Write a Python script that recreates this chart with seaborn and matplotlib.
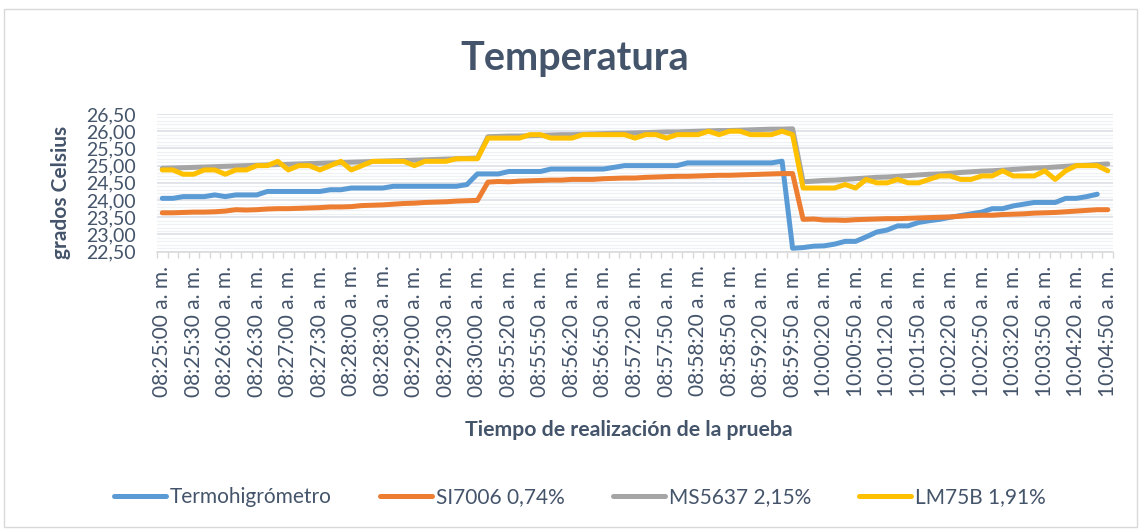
import numpy as np
import pandas as pd
import matplotlib
matplotlib.use("Agg")
import matplotlib.pyplot as plt
import seaborn as sns
from matplotlib.patches import Rectangle
from matplotlib.ticker import MultipleLocator, FuncFormatter

# Sampling sessions: start time and number of 10-second readings in each
segment_starts = ["08:25:00", "08:55:00", "10:00:00"]
segment_lengths = [31, 30, 30]

sensor_names = ["Termohigrómetro", "SI7006 0,74%", "MS5637 2,15%", "LM75B 1,91%"]
sensor_colors = ["#5B9BD5", "#ED7D31", "#A5A5A5", "#FFC000"]

# Reference thermohygrometer (one reading fewer than the sensors)
termohigrometro = [
    24.05, 24.05, 24.10, 24.10, 24.10, 24.15, 24.10, 24.15, 24.15, 24.15,
    24.25, 24.25, 24.25, 24.25, 24.25, 24.25, 24.30, 24.30, 24.35, 24.35,
    24.35, 24.35, 24.40, 24.40, 24.40, 24.40, 24.40, 24.40, 24.40, 24.45,
    24.76, 24.76, 24.76, 24.83, 24.83, 24.83, 24.83, 24.90, 24.90, 24.90,
    24.90, 24.90, 24.90, 24.95, 25.00, 25.00, 25.00, 25.00, 25.00, 25.00,
    25.08, 25.08, 25.08, 25.08, 25.08, 25.08, 25.08, 25.08, 25.08, 25.13,
    22.60, 22.62, 22.66, 22.67, 22.72, 22.80, 22.80, 22.93, 23.07, 23.13,
    23.25, 23.25, 23.35, 23.40, 23.44, 23.50, 23.55, 23.60, 23.65, 23.75,
    23.75, 23.83, 23.88, 23.93, 23.93, 23.93, 24.05, 24.05, 24.10, 24.17,
]

si7006 = [
    23.63, 23.63, 23.64, 23.65, 23.65, 23.66, 23.68, 23.72, 23.71, 23.72,
    23.74, 23.75, 23.75, 23.76, 23.77, 23.78, 23.80, 23.80, 23.81, 23.84,
    23.85, 23.86, 23.88, 23.90, 23.91, 23.93, 23.94, 23.95, 23.97, 23.98,
    23.99,
    24.52, 24.54, 24.53, 24.55, 24.56, 24.57, 24.58, 24.58, 24.60, 24.60,
    24.60, 24.62, 24.63, 24.64, 24.64, 24.66, 24.67, 24.68, 24.69, 24.69,
    24.70, 24.71, 24.72, 24.72, 24.73, 24.74, 24.75, 24.76, 24.77, 24.77,
    23.44, 23.45, 23.42, 23.42, 23.41, 23.43, 23.44, 23.45, 23.46, 23.46,
    23.47, 23.48, 23.49, 23.50, 23.51, 23.53, 23.55, 23.56, 23.56, 23.58,
    23.59, 23.60, 23.62, 23.63, 23.64, 23.66, 23.68, 23.70, 23.72, 23.72,
]

ms5637 = [
    24.92, 24.93, 24.94, 24.95, 24.96, 24.97, 24.98, 24.99, 25.00, 25.01,
    25.02, 25.03, 25.04, 25.05, 25.06, 25.07, 25.08, 25.09, 25.10, 25.11,
    25.12, 25.13, 25.14, 25.15, 25.16, 25.17, 25.18, 25.19, 25.20, 25.21,
    25.22,
    25.84, 25.85, 25.86, 25.86, 25.87, 25.88, 25.89, 25.90, 25.90, 25.91,
    25.92, 25.93, 25.94, 25.94, 25.95, 25.96, 25.97, 25.98, 25.98, 25.99,
    26.00, 26.01, 26.02, 26.02, 26.03, 26.04, 26.05, 26.06, 26.06, 26.07,
    24.53, 24.55, 24.57, 24.58, 24.60, 24.62, 24.64, 24.66, 24.67, 24.69,
    24.71, 24.73, 24.75, 24.76, 24.78, 24.80, 24.82, 24.84, 24.85, 24.87,
    24.89, 24.91, 24.93, 24.94, 24.96, 24.98, 25.00, 25.01, 25.03, 25.05,
]

lm75b = [
    24.875, 24.875, 24.75, 24.75, 24.875, 24.875, 24.75, 24.875, 24.875, 25.0,
    25.0, 25.125, 24.875, 25.0, 25.0, 24.875, 25.0, 25.125, 24.875, 25.0,
    25.125, 25.125, 25.125, 25.125, 25.0, 25.125, 25.125, 25.125, 25.2, 25.2,
    25.2,
    25.8, 25.8, 25.8, 25.8, 25.9, 25.9, 25.8, 25.8, 25.8, 25.9,
    25.9, 25.9, 25.9, 25.9, 25.8, 25.9, 25.9, 25.8, 25.9, 25.9,
    25.9, 26.0, 25.9, 26.0, 26.0, 25.9, 25.9, 25.9, 26.0, 25.9,
    24.35, 24.35, 24.35, 24.35, 24.45, 24.35, 24.6, 24.5, 24.5, 24.6,
    24.5, 24.5, 24.6, 24.7, 24.7, 24.6, 24.6, 24.7, 24.7, 24.85,
    24.7, 24.7, 24.7, 24.85, 24.6, 24.85, 25.0, 25.0, 25.0, 24.85,
]

# Time stamp of every reading, labelled every third one
times = []
for start, n in zip(segment_starts, segment_lengths):
    times += list(pd.date_range("2000-01-01 " + start, periods=n, freq="10s"))
time_labels = [t.strftime("%H:%M:%S") + " a. m." for t in times]
label_step = 3

frames = []
for name, values in zip(sensor_names, [termohigrometro, si7006, ms5637, lm75b]):
    frames.append(pd.DataFrame({"pos": np.arange(len(values)),
                                "temp": values, "sensor": name}))
df = pd.concat(frames, ignore_index=True)

sns.set_theme(style="white")
plt.rcParams["font.family"] = ["Lato", "DejaVu Sans"]

TEXT = "#44546A"
W, H = 1140, 531
fig = plt.figure(figsize=(W / 100, H / 100), dpi=100)
ax = fig.add_axes([157 / W, 1 - 251.7 / H, 956 / W, 137.7 / H])

sns.lineplot(data=df, x="pos", y="temp", hue="sensor", hue_order=sensor_names,
             palette=sensor_colors, linewidth=3.6, ax=ax,
             solid_capstyle="round", solid_joinstyle="round")

ax.set_xlim(-0.5, len(times) - 0.5)
ax.set_ylim(22.5, 26.5)

# y axis: labelled every 0.5, faint minor grid every 0.1
ax.yaxis.set_major_locator(MultipleLocator(0.5))
ax.yaxis.set_minor_locator(MultipleLocator(0.1))
ax.yaxis.set_major_formatter(FuncFormatter(lambda v, p: f"{v:.2f}".replace(".", ",")))
ax.grid(which="major", axis="y", color="#D9DEE6", linewidth=1.1)
ax.grid(which="minor", axis="y", color="#EFF1F5", linewidth=0.9)
ax.grid(which="major", axis="x", visible=False)
ax.set_axisbelow(True)
ax.tick_params(axis="y", which="both", length=0, pad=15, labelsize=14, labelcolor=TEXT)

# x axis: time labels on every third reading, tick marks between readings
positions = np.arange(len(times))
ax.set_xticks(positions[::label_step])
ax.set_xticklabels(time_labels[::label_step], rotation=90, va="top", ha="center")
ax.set_xticks(np.arange(-0.5, len(times), 1), minor=True)
ax.tick_params(axis="x", which="major", length=0, pad=10, labelsize=15, labelcolor=TEXT)
ax.tick_params(axis="x", which="minor", length=4.3, width=1, color="#D9D9D9", bottom=True)

for side in ["top", "right", "left"]:
    ax.spines[side].set_visible(False)
ax.spines["bottom"].set_color("#D9D9D9")
ax.spines["bottom"].set_linewidth(1.1)

ax.set_xlabel("Tiempo de realización de la prueba", fontsize=15.3,
              fontweight="bold", color=TEXT)
ax.xaxis.set_label_coords(0.494, -1.225)
ax.set_ylabel("grados Celsius", fontsize=15, fontweight="bold", color=TEXT)
ax.yaxis.set_label_coords(-0.09, 0.43)

fig.text(575 / W, 1 - 70 / H, "Temperatura", ha="center", va="baseline",
         fontsize=28.5, fontweight="bold", color=TEXT)

handles, labels = ax.get_legend_handles_labels()
ax.get_legend().remove()
leg = fig.legend(handles, labels, loc="center", bbox_to_anchor=(580 / W, 1 - 497 / H),
                 ncol=4, frameon=False, fontsize=15, handlelength=2.5,
                 handletextpad=0.2, columnspacing=2.3, labelcolor=TEXT)
for line in leg.get_lines():
    line.set_linewidth(3.6)
    line.set_solid_capstyle("round")

fig.patches.append(Rectangle((4 / W, 4 / H), 1133 / W, 518 / H,
                             transform=fig.transFigure, fill=False,
                             edgecolor="#D9D9D9", linewidth=1))

fig.savefig("out.png", dpi=100)
